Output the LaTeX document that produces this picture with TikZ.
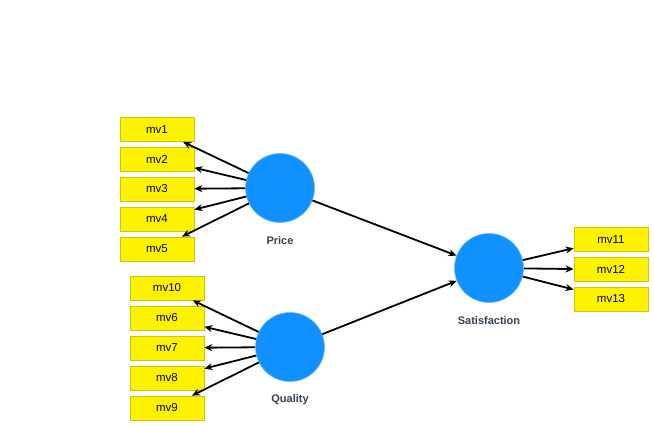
\documentclass[tikz,border=0pt]{standalone}
\usepackage{fontspec}
\setmainfont{Liberation Sans}
\usetikzlibrary{arrows.meta,positioning}
\definecolor{lvblue}{RGB}{17,144,255}
\definecolor{lvedge}{RGB}{110,185,255}
\definecolor{mvedge}{RGB}{200,200,0}
\definecolor{lvtext}{RGB}{52,64,80}
\begin{document}
\begin{tikzpicture}[x=1pt,y=1pt]
                \tikzstyle{mvbox}=[draw=mvedge, fill=yellow, line width=0.8pt, minimum width=74pt, minimum height=24pt, inner sep=0pt, font=\fontsize{11.5}{13}\selectfont]
                \tikzstyle{lv}=[circle, fill=lvblue, draw=lvedge, line width=0.6pt, minimum size=69pt, inner sep=0pt]
                \tikzstyle{lvname}=[font=\bfseries\fontsize{11}{13}\selectfont, text=lvtext]
                \tikzstyle{link}=[draw, line width=1.8pt, -{Stealth[length=8pt,width=7pt]}]
                \useasboundingbox (0,0) rectangle (654,-426);
                % latent variables
                \node [lv] (price) at (280,-188) {};
                \node [lvname] (pricename) at (280,-241) {Price};
                \node [lv] (quality) at (290,-347) {};
                \node [lvname] (qualityname) at (290,-400) {Quality};
                \node [lv] (satis) at (489,-268) {};
                \node [lvname] (satisname) at (489,-321) {Satisfaction};
                % indicators of Price
                \node [mvbox] (mv1) at (157,-129.5) {mv1};
                \node [mvbox] (mv2) at (157,-159) {mv2};
                \node [mvbox] (mv3) at (157,-189) {mv3};
                \node [mvbox] (mv4) at (157,-219) {mv4};
                \node [mvbox] (mv5) at (157,-249) {mv5};
                % indicators of Quality
                \node [mvbox] (mv10) at (167,-288) {mv10};
                \node [mvbox] (mv6) at (167,-318) {mv6};
                \node [mvbox] (mv7) at (167,-348) {mv7};
                \node [mvbox] (mv8) at (167,-378) {mv8};
                \node [mvbox] (mv9) at (167,-408) {mv9};
                % indicators of Satisfaction
                \node [mvbox] (mv11) at (611,-239.5) {mv11};
                \node [mvbox] (mv12) at (611,-269.5) {mv12};
                \node [mvbox] (mv13) at (611,-299) {mv13};
                % loadings
                \path [link] (price) -- (mv1);
                \path [link] (price) -- (mv2);
                \path [link] (price) -- (mv3);
                \path [link] (price) -- (mv4);
                \path [link] (price) -- (mv5);
                \path [link] (quality) -- (mv10);
                \path [link] (quality) -- (mv6);
                \path [link] (quality) -- (mv7);
                \path [link] (quality) -- (mv8);
                \path [link] (quality) -- (mv9);
                \path [link] (satis) -- (mv11);
                \path [link] (satis) -- (mv12);
                \path [link] (satis) -- (mv13);
                % paths
                \path [link] (price) -- (satis);
                \path [link] (quality) -- (satis);
\end{tikzpicture}
\end{document}
